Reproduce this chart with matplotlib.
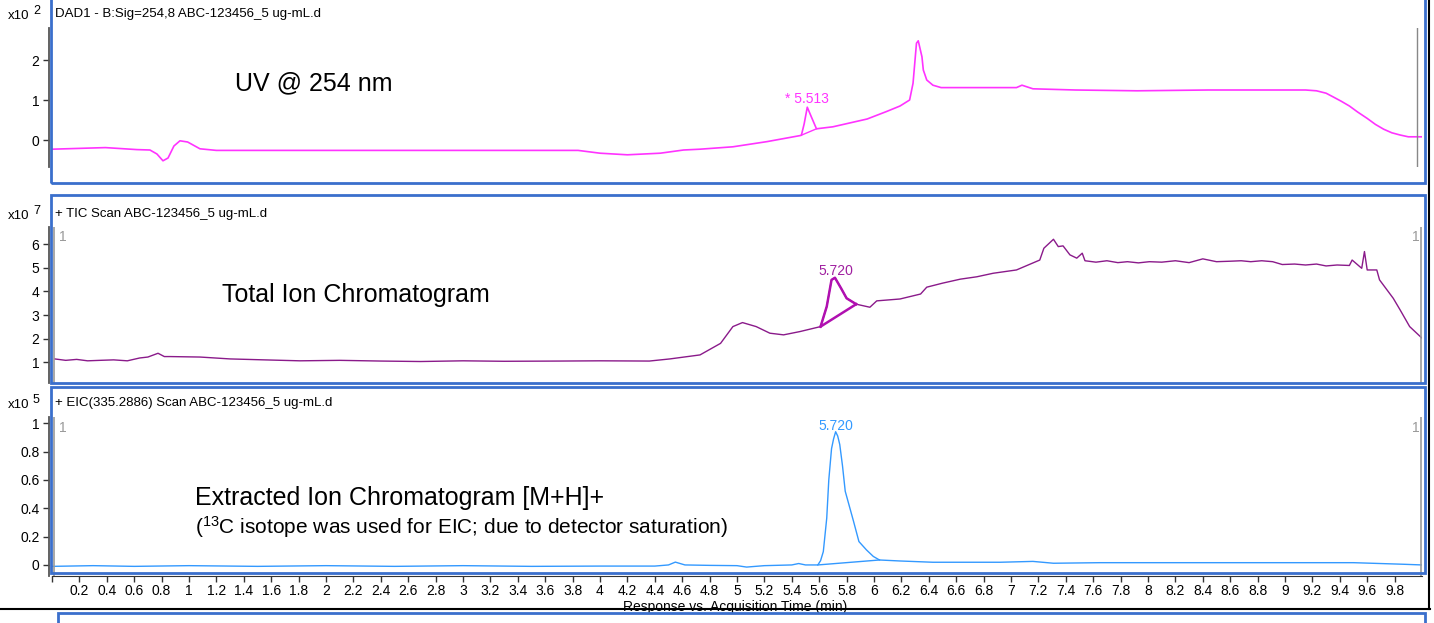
import matplotlib.pyplot as plt
import matplotlib.lines as mlines
import matplotlib.patches as mpatches
from matplotlib.ticker import FixedLocator, FuncFormatter

plt.rcParams['font.family'] = ['Liberation Sans', 'DejaVu Sans']
plt.rcParams['mathtext.fontset'] = 'custom'
plt.rcParams['mathtext.rm'] = 'Liberation Sans'
plt.rcParams['mathtext.default'] = 'regular'

W, H = 1434, 623

# UV @ 254 nm (x10^2)
uv_time = [0.0, 0.39, 0.62, 0.715, 0.766, 0.81, 0.847, 0.89, 0.934, 0.99, 1.08, 1.20,
           3.84, 4.0, 4.20, 4.44, 4.61, 4.73, 4.97, 5.22, 5.46, 5.47, 5.49, 5.513, 5.54, 5.58,
           5.70, 5.95, 6.09, 6.19, 6.26, 6.285, 6.31, 6.323, 6.35, 6.36, 6.385, 6.43, 6.49,
           7.04, 7.08, 7.16, 7.47, 7.92, 8.44, 9.15, 9.23, 9.30, 9.35, 9.41, 9.47, 9.53,
           9.60, 9.66, 9.72, 9.78, 9.84, 9.90, 10.0]
uv_resp = [-0.23, -0.19, -0.24, -0.25, -0.35, -0.52, -0.45, -0.15, -0.02, -0.05, -0.22, -0.26,
           -0.26, -0.33, -0.37, -0.33, -0.25, -0.23, -0.17, -0.04, 0.11, 0.12, 0.40, 0.82, 0.60, 0.28,
           0.33, 0.525, 0.71, 0.85, 1.00, 1.42, 2.42, 2.48, 2.08, 1.75, 1.50, 1.37, 1.31,
           1.31, 1.37, 1.28, 1.25, 1.23, 1.25, 1.25, 1.23, 1.17, 1.08, 0.97, 0.85, 0.70,
           0.54, 0.39, 0.27, 0.18, 0.125, 0.08, 0.08]

# TIC (x10^7)
tic_time = [0.02, 0.10, 0.18, 0.26, 0.35, 0.45, 0.55, 0.64, 0.70, 0.774, 0.82, 0.86,
            1.08, 1.30, 1.55, 1.81, 2.10, 2.40, 2.69, 3.00, 3.30, 3.71, 4.00, 4.36,
            4.51, 4.73, 4.88, 4.97, 5.04, 5.14, 5.24, 5.34, 5.46, 5.61, 5.655, 5.69,
            5.715, 5.76, 5.80, 5.87, 5.97, 6.02, 6.19, 6.34, 6.385, 6.50, 6.63, 6.75,
            6.87, 7.04, 7.21, 7.24, 7.31, 7.345, 7.38, 7.43, 7.48, 7.52, 7.54, 7.62,
            7.70, 7.78, 7.85, 7.93, 8.01, 8.10, 8.20, 8.30, 8.40, 8.50, 8.60, 8.68,
            8.75, 8.83, 8.91, 8.98, 9.07, 9.15, 9.23, 9.30, 9.38, 9.47, 9.49, 9.56,
            9.58, 9.60, 9.67, 9.69, 9.74, 9.79, 9.84, 9.91, 10.0]
tic_resp = [1.14, 1.08, 1.12, 1.06, 1.08, 1.10, 1.06, 1.18, 1.22, 1.38, 1.24, 1.24,
            1.22, 1.14, 1.10, 1.06, 1.08, 1.05, 1.03, 1.06, 1.04, 1.05, 1.06, 1.05,
            1.14, 1.31, 1.80, 2.51, 2.68, 2.51, 2.23, 2.16, 2.30, 2.51, 3.36, 4.49,
            4.58, 4.13, 3.71, 3.46, 3.33, 3.60, 3.68, 3.89, 4.18, 4.35, 4.52, 4.62,
            4.77, 4.91, 5.33, 5.83, 6.21, 5.90, 5.93, 5.55, 5.41, 5.62, 5.30, 5.24,
            5.30, 5.22, 5.26, 5.21, 5.26, 5.24, 5.30, 5.22, 5.38, 5.26, 5.28, 5.30,
            5.26, 5.30, 5.26, 5.14, 5.16, 5.12, 5.16, 5.08, 5.12, 5.10, 5.33, 4.98,
            5.69, 4.91, 4.91, 4.49, 4.10, 3.71, 3.22, 2.51, 2.02]

# EIC(335.2886) (x10^5)
eic_time = [0.0, 0.3, 0.6, 1.0, 1.5, 2.0, 2.5, 3.0, 3.5, 4.0, 4.4, 4.5, 4.55, 4.62,
            4.8, 5.0, 5.07, 5.2, 5.4, 5.45, 5.5, 5.59, 5.61, 5.63, 5.655, 5.67, 5.69, 5.705, 5.72,
            5.735, 5.75, 5.77, 5.79, 5.81, 5.85, 5.89, 5.945, 5.995, 6.04, 6.19, 6.43, 6.92, 7.16,
            7.31, 7.65, 8.5, 9.5, 9.86, 10.0]
eic_resp = [-0.01, -0.005, -0.01, -0.005, -0.01, -0.005, -0.01, -0.005, -0.01, -0.008, -0.008, 0.0, 0.02, 0.0,
            -0.003, -0.005, -0.015, -0.005, 0.0, 0.01, 0.0, 0.0, 0.03, 0.094, 0.33, 0.60, 0.82, 0.89, 0.94,
            0.91, 0.85, 0.70, 0.52, 0.45, 0.31, 0.165, 0.106, 0.06, 0.035, 0.028, 0.019, 0.019, 0.025,
            0.012, 0.016, 0.016, 0.016, 0.005, 0.0]

uv_peak = (5.513, '* 5.513', 1.03)
tic_peak = (5.720, '5.720', 4.87)
eic_peak = (5.720, '5.720', 0.98)
tic_base = ([5.61, 5.87], [2.51, 3.46])
eic_base = ([5.59, 6.04], [0.0, 0.035])
uv_base = ([5.47, 5.58], [0.12, 0.28])

x_ticks = [round(0.2 * i, 1) for i in range(50)]


def px_box(x0, y0, x1, y1):
    return [x0 / W, 1 - y1 / H, (x1 - x0) / W, (y1 - y0) / H]


fig = plt.figure(figsize=(W / 100, H / 100), dpi=100)

ax_uv = fig.add_axes(px_box(52, 28, 1422, 167))
ax_tic = fig.add_axes(px_box(52, 227, 1422, 383))
ax_eic = fig.add_axes(px_box(52, 417, 1422, 576))

for ax, lo, hi, ticks in [(ax_uv, -0.675, 2.8, [0, 1, 2]),
                          (ax_tic, 0.12, 6.73, [1, 2, 3, 4, 5, 6]),
                          (ax_eic, -0.078, 1.044, [0, 0.2, 0.4, 0.6, 0.8, 1])]:
    ax.set_xlim(0, 10.0)
    ax.set_ylim(lo, hi)
    ax.set_facecolor('none')
    for s in ['top', 'right']:
        ax.spines[s].set_visible(False)
    ax.spines['left'].set_position(('outward', 2))
    ax.spines['left'].set_color('#555555')
    ax.spines['left'].set_linewidth(1.3)
    ax.yaxis.set_major_locator(FixedLocator(ticks))
    ax.yaxis.set_major_formatter(FuncFormatter(lambda v, p: f"{v:g}"))
    ax.tick_params(axis='y', length=4, width=1, color='#333333', labelsize=10, pad=3)

for ax in [ax_uv, ax_tic]:
    ax.spines['bottom'].set_visible(False)
    ax.set_xticks([])

ax_eic.spines['bottom'].set_color('#333333')
ax_eic.xaxis.set_major_locator(FixedLocator(x_ticks))
ax_eic.xaxis.set_major_formatter(FuncFormatter(lambda v, p: "" if v == 0 else f"{v:g}"))
ax_eic.tick_params(axis='x', length=4, width=1, color='#333333', labelsize=10, pad=2)

# traces
ax_uv.plot(uv_time, uv_resp, color='#ff33ff', lw=1.2)
ax_uv.plot(*uv_base, color='#ff33ff', lw=1)
ax_uv.text(uv_peak[0], uv_peak[2], uv_peak[1], color='#ff33ff', fontsize=10, ha='center', va='center')
ax_uv.axvline(9.96, color='#888888', lw=1)

ax_tic.plot(tic_time, tic_resp, color='#8a1a8a', lw=1)
i0, i1 = tic_time.index(5.61), tic_time.index(5.87)
ax_tic.plot(tic_time[i0:i1 + 1], tic_resp[i0:i1 + 1], color='#b010b0', lw=1.8)
ax_tic.plot(*tic_base, color='#b010b0', lw=1.8)
ax_tic.text(tic_peak[0], tic_peak[2], tic_peak[1], color='#a020a0', fontsize=10, ha='center', va='center')

ax_eic.plot(eic_time, eic_resp, color='#3399ff', lw=1)
ax_eic.plot(*eic_base, color='#3399ff', lw=1)
ax_eic.text(eic_peak[0], eic_peak[2], eic_peak[1], color='#3399ff', fontsize=10, ha='center', va='center')

for ax in [ax_tic, ax_eic]:
    ax.axvline(0.015, color='#999999', lw=1.2)
    ax.axvline(9.995, color='#999999', lw=1.2)

# sample markers
for y in [237, 428]:
    fig.text(59 / W, 1 - y / H, '1', color='#999999', fontsize=10, va='center')
    fig.text(1420 / W, 1 - y / H, '1', color='#999999', fontsize=10, va='center', ha='right')

# panel frames
box_color = '#3a6fcc'
for x0, y0, x1, y1 in [(51, -10, 1425, 183), (51, 195, 1425, 383), (51, 387, 1425, 573), (58, 613, 1425, 640)]:
    fig.add_artist(mpatches.Rectangle((x0 / W, 1 - y1 / H), (x1 - x0) / W, (y1 - y0) / H,
                                      transform=fig.transFigure, fill=False,
                                      edgecolor=box_color, lw=2))

fig.add_artist(mlines.Line2D([0, 1430 / W], [1 - 609 / H] * 2, transform=fig.transFigure,
                             color='black', lw=1.5))
fig.add_artist(mlines.Line2D([1429 / W] * 2, [1, 1 - 609 / H], transform=fig.transFigure,
                             color='black', lw=1.5))

# headers
for y, title, exp in [(14, 'DAD1 - B:Sig=254,8 ABC-123456_5 ug-mL.d', '2'),
                      (214, '+ TIC Scan ABC-123456_5 ug-mL.d', '7'),
                      (403, '+ EIC(335.2886) Scan ABC-123456_5 ug-mL.d', '5')]:
    fig.text(55 / W, 1 - y / H, title, fontsize=9.5, va='center')
    fig.text(8 / W, 1 - (y + 2) / H, 'x10', fontsize=9.5, va='center')
    fig.text(33 / W, 1 - (y - 3) / H, exp, fontsize=9, va='center')

fig.text(235 / W, 1 - 83 / H, 'UV @ 254 nm', fontsize=18, va='center')
fig.text(222 / W, 1 - 295 / H, 'Total Ion Chromatogram', fontsize=18, va='center')
fig.text(195 / W, 1 - 498 / H, 'Extracted Ion Chromatogram [M+H]+', fontsize=18, va='center')
fig.text(195 / W, 1 - 527 / H, '($^{13}$C isotope was used for EIC; due to detector saturation)',
         fontsize=15, va='center')

fig.text(735 / W, 1 - 607 / H, 'Response vs. Acquisition Time (min)', fontsize=10,
         ha='center', va='center', zorder=0.5)

fig.savefig('out.png', dpi=100)
